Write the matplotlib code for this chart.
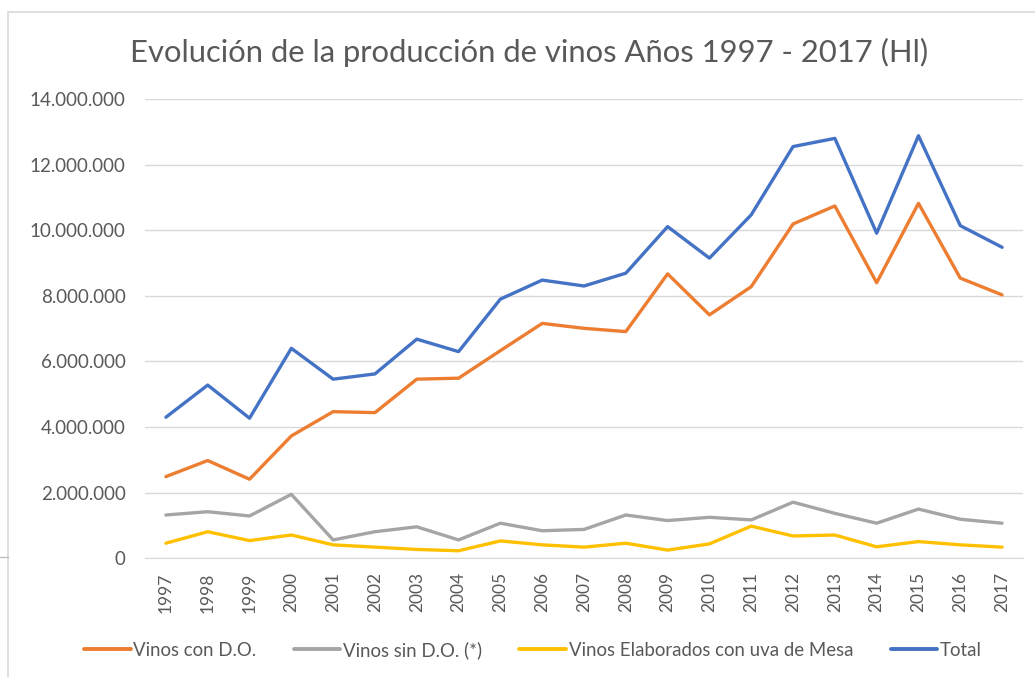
import matplotlib
matplotlib.use("Agg")
import matplotlib.pyplot as plt
from matplotlib.ticker import FuncFormatter
from matplotlib.patches import Rectangle
from matplotlib.lines import Line2D

plt.rcParams['font.family'] = ['Lato', 'DejaVu Sans']

years = [str(y) for y in range(1997, 2018)]
vinos_do = [2.49, 2.98, 2.41, 3.73, 4.47, 4.44, 5.46, 5.49, 6.33, 7.16, 7.01,
            6.91, 8.67, 7.42, 8.28, 10.19, 10.74, 8.40, 10.82, 8.54, 8.03]
vinos_sin_do = [1.32, 1.42, 1.29, 1.95, 0.56, 0.81, 0.96, 0.56, 1.07, 0.84, 0.88,
                1.32, 1.15, 1.25, 1.17, 1.71, 1.37, 1.07, 1.50, 1.19, 1.07]
vinos_mesa = [0.46, 0.81, 0.54, 0.71, 0.41, 0.34, 0.27, 0.23, 0.53, 0.41, 0.34,
              0.46, 0.25, 0.44, 0.98, 0.68, 0.71, 0.35, 0.51, 0.41, 0.34]
total = [4.30, 5.28, 4.27, 6.40, 5.46, 5.62, 6.68, 6.30, 7.90, 8.48, 8.30,
         8.69, 10.11, 9.15, 10.47, 12.55, 12.80, 9.91, 12.88, 10.14, 9.48]

series_names = ["Vinos con D.O.", "Vinos sin D.O. (*)",
                "Vinos Elaborados con uva de Mesa", "Total"]
series_vals = [vinos_do, vinos_sin_do, vinos_mesa, total]
colors = ["#ED7D31", "#A5A5A5", "#FFC000", "#4472C4"]

W, H = 1035, 677
fig = plt.figure(figsize=(W / 100, H / 100), dpi=100)
fig.patch.set_facecolor("white")

# chart border (screenshot crop)
fig.patches.append(Rectangle((8 / W, -0.1), 1.2, (H - 12) / H + 0.1,
                             transform=fig.transFigure, fill=False,
                             edgecolor="#d9d9d9", lw=1.2))
fig.add_artist(Line2D([0, 8 / W], [1 - 557 / H, 1 - 557 / H],
                      transform=fig.transFigure, color="#bfbfbf", lw=1))

ax = fig.add_axes([145 / W, 1 - 558.3 / H, (1023 - 145) / W, (558.3 - 99) / H])
x = list(range(len(years)))
for name, vals, c in zip(series_names, series_vals, colors):
    ax.plot(x, [v * 1e6 for v in vals], color=c, lw=2.4, label=name,
            solid_joinstyle="round", solid_capstyle="round")

ax.set_xlim(-0.5, len(years) - 0.5)
ax.set_ylim(0, 14e6)
ax.set_yticks([i * 2e6 for i in range(8)])
ax.yaxis.set_major_formatter(FuncFormatter(
    lambda v, p: "0" if v == 0 else f"{int(v):,}".replace(",", ".")))
ax.set_xticks(x)
ax.set_xticklabels(years, rotation=90)
ax.grid(axis="y", color="#d9d9d9", lw=1)
ax.set_axisbelow(True)
for s in ["top", "right", "left"]:
    ax.spines[s].set_visible(False)
ax.spines["bottom"].set_color("#d9d9d9")
ax.tick_params(axis="both", length=0, colors="#595959")
ax.tick_params(axis="y", pad=14, labelsize=13.5)
ax.tick_params(axis="x", pad=10, labelsize=12.5)

fig.text(529 / W, 1 - 52 / H, "Evolución de la producción de vinos Años 1997 - 2017 (Hl)",
         ha="center", va="center", fontsize=22.3, color="#595959")

leg = fig.legend(loc="center", bbox_to_anchor=(533 / W, 1 - 650 / H), ncol=4,
                 frameon=False, fontsize=13.4, handlelength=2.5, handletextpad=0.15,
                 columnspacing=2.0, labelcolor="#595959")
for l in leg.get_lines():
    l.set_linewidth(2.8)

fig.savefig("out.png", dpi=100, facecolor="white")
